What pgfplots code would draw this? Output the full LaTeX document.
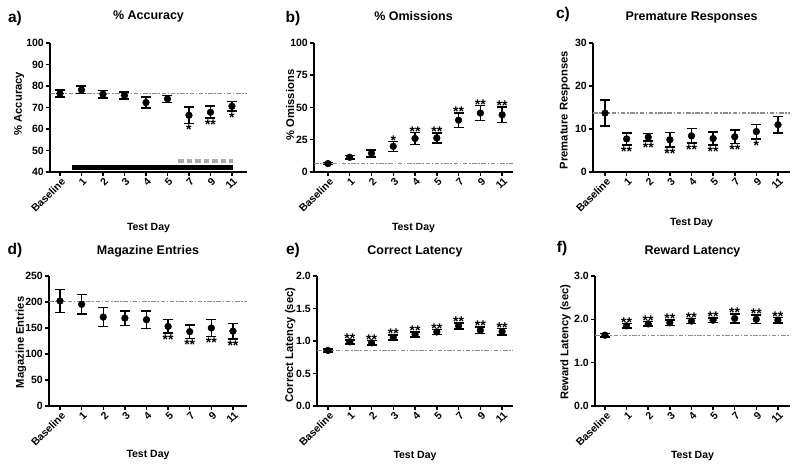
\documentclass[border=0pt]{standalone}
\usepackage{pgfplots}
\pgfplotsset{compat=1.18}
\usepackage{fontspec}
\setmainfont{Liberation Sans}
\definecolor{refgray}{RGB}{140,140,140}
\definecolor{bargray}{RGB}{170,170,170}
\newcommand{\tickfont}{\bfseries\fontsize{10.5}{12}\selectfont}
\newcommand{\labfont}{\bfseries\fontsize{10.5}{12}\selectfont}
\newcommand{\ylabfont}{\bfseries\fontsize{11.2}{12}\selectfont}
\newcommand{\titfont}{\bfseries\fontsize{12.5}{14}\selectfont}
\newcommand{\letfont}{\bfseries\fontsize{15.5}{17}\selectfont}
\newcommand{\starfont}{\bfseries\fontsize{14}{15}\selectfont}
\pgfplotsset{
  prism/.style={
    scale only axis,
    axis lines*=left,
    axis line style={line width=1.5pt, black},
    xtick={0,...,8},
    xticklabels={Baseline,1,2,3,4,5,7,9,11},
    xticklabel style={rotate=45, anchor=north east, font=\tickfont, inner sep=0pt, yshift=-1pt},
    yticklabel style={font=\tickfont, inner sep=2pt},
    /pgf/number format/assume math mode=true,
    scaled y ticks=false,
    tick align=outside,
    major tick length=4pt,
    minor tick num=0,
    tick style={line width=1.5pt, black},
    xlabel={Test Day},
    xlabel style={font=\labfont, anchor=center},
    ylabel style={font=\ylabfont, anchor=center},
    title style={font=\titfont, anchor=center, yshift=0pt},
    clip=false,
  },
  dat/.style={black, mark=*, mark size=3.4pt, only marks,
    error bars/.cd, y dir=both, y explicit,
    error mark options={rotate=90, line width=1.5pt, mark size=5pt, black},
    error bar style={line width=1.5pt, black}},
  refl/.style={refgray, line width=1.4pt, dash pattern=on 4.5pt off 1.6pt on 1.6pt off 1.6pt, forget plot},
  starsbelow/.style={draw=none, mark=none, nodes near coords, point meta=explicit symbolic,
    every node near coord/.append style={anchor=north, font=\starfont, inner sep=0pt, yshift=-1.5pt}},
  starsabove/.style={draw=none, mark=none, nodes near coords, point meta=explicit symbolic,
    every node near coord/.append style={anchor=south, font=\starfont, inner sep=0pt, yshift=-4pt}},
}
\begin{document}
\begin{tikzpicture}
\useasboundingbox (0,0) rectangle (800pt,470pt);
% ---------------- a) % Accuracy
\begin{axis}[prism, at={(50pt,298pt)}, anchor=south west,
  width=197pt, height=129pt, xmin=-0.465, xmax=8.7,
  ymin=40, ymax=100, ytick={40,50,...,100},
  title={\% Accuracy}, title style={at={(axis description cs:0.5,1.163)}},
  ylabel={\% Accuracy}, ylabel style={at={(axis description cs:-0.157,0.53)}},
  xlabel style={at={(axis description cs:0.5,-0.434)}}]
\addplot[refl] coordinates {(-0.465,76.4) (8.7,76.4)};
\addplot[black, line width=4.5pt, forget plot] coordinates {(0.56,42.1) (8.05,42.1)};
\addplot[bargray, line width=3.5pt, dash pattern=on 5.5pt off 3pt, forget plot] coordinates {(5.5,45) (8.05,45)};
\addplot[dat] table[x=x, y=y, y error=e] {
x y e
0 76.5 1.7
1 78.2 1.8
2 76.2 1.8
3 75.6 1.6
4 72.3 2.5
5 74.0 1.6
6 66.4 3.9
7 67.8 2.8
8 70.6 2.3
};
\addplot[starsbelow] table[x=x, y=y, meta=s] {
x y s
6 62.5 *
7 65.0 **
8 68.3 *
};
\end{axis}
% ---------------- b) % Omissions
\begin{axis}[prism, at={(314pt,298pt)}, anchor=south west,
  width=199pt, height=129pt, xmin=-0.64, xmax=8.5,
  ymin=0, ymax=100, ytick={0,25,50,75,100},
  title={\% Omissions}, title style={at={(axis description cs:0.5,1.163)}},
  ylabel={\% Omissions}, ylabel style={at={(axis description cs:-0.12,0.52)}},
  xlabel style={at={(axis description cs:0.5,-0.434)}}]
\addplot[refl] coordinates {(-0.64,6.7) (8.5,6.7)};
\addplot[dat] table[x=x, y=y, y error=e] {
x y e
0 6.5 0.8
1 11.4 1.2
2 14.5 2.7
3 19.9 3.9
4 26.0 4.5
5 26.4 3.9
6 40.2 5.6
7 45.7 5.9
8 44.3 6.0
};
\addplot[starsabove] table[x=x, y=y, meta=s] {
x y s
3 23.8 *
4 30.5 **
5 30.3 **
6 45.8 **
7 51.6 **
8 50.3 **
};
\end{axis}
% ---------------- c) Premature Responses
\begin{axis}[prism, at={(593pt,298pt)}, anchor=south west,
  width=197pt, height=129pt, xmin=-0.555, xmax=8.555,
  ymin=0, ymax=30, ytick={0,10,20,30},
  title={Premature Responses}, title style={at={(axis description cs:0.5,1.155)}},
  ylabel={Premature Responses}, ylabel style={at={(axis description cs:-0.142,0.48)}},
  xlabel style={at={(axis description cs:0.5,-0.395)}}]
\addplot[refl] coordinates {(-0.555,13.7) (8.555,13.7)};
\addplot[dat] table[x=x, y=y, y error=e] {
x y e
0 13.7 3.0
1 7.7 1.4
2 8.1 0.9
3 7.5 1.7
4 8.4 1.7
5 7.8 1.5
6 8.2 1.6
7 9.4 1.7
8 11.0 1.9
};
\addplot[starsbelow] table[x=x, y=y, meta=s] {
x y s
1 6.3 **
2 7.2 **
3 5.8 **
4 6.7 **
5 6.3 **
6 6.6 **
7 7.7 *
};
\end{axis}
% ---------------- d) Magazine Entries
\begin{axis}[prism, at={(49pt,64pt)}, anchor=south west,
  width=198pt, height=130pt, xmin=-0.51, xmax=8.65,
  ymin=0, ymax=250, ytick={0,50,...,250},
  title={Magazine Entries}, title style={at={(axis description cs:0.5,1.146)}},
  ylabel={Magazine Entries}, ylabel style={at={(axis description cs:-0.142,0.49)}},
  xlabel style={at={(axis description cs:0.5,-0.377)}}]
\addplot[refl] coordinates {(-0.51,200.6) (8.65,200.6)};
\addplot[dat] table[x=x, y=y, y error=e] {
x y e
0 202 22
1 195.6 19
2 171 18
3 169 14
4 166 17
5 153 13
6 143 13
7 150 16
8 144 15
};
\addplot[starsbelow] table[x=x, y=y, meta=s] {
x y s
5 140 **
6 130 **
7 134 **
8 129 **
};
\end{axis}
% ---------------- e) Correct Latency
\begin{axis}[prism, at={(317pt,64pt)}, anchor=south west,
  width=196pt, height=130pt, xmin=-0.506, xmax=8.5,
  ymin=0, ymax=2, ytick={0,0.5,...,2.0},
  yticklabel style={/pgf/number format/.cd, fixed, fixed zerofill, precision=1},
  title={Correct Latency}, title style={at={(axis description cs:0.5,1.146)}},
  ylabel={Correct Latency (sec)}, ylabel style={at={(axis description cs:-0.137,0.47)}},
  xlabel style={at={(axis description cs:0.5,-0.385)}}]
\addplot[refl] coordinates {(-0.506,0.85) (8.5,0.85)};
\addplot[dat] table[x=x, y=y, y error=e] {
x y e
0 0.854 0.02
1 0.987 0.03
2 0.972 0.035
3 1.054 0.04
4 1.10 0.04
5 1.14 0.04
6 1.233 0.045
7 1.167 0.05
8 1.146 0.05
};
\addplot[starsabove] table[x=x, y=y, meta=s] {
x y s
1 1.017 **
2 1.007 **
3 1.094 **
4 1.14 **
5 1.18 **
6 1.278 **
7 1.217 **
8 1.196 **
};
\end{axis}
% ---------------- f) Reward Latency
\begin{axis}[prism, at={(595pt,64pt)}, anchor=south west,
  width=195pt, height=130pt, xmin=-0.46, xmax=8.56,
  ymin=0, ymax=3, ytick={0,1,2,3},
  yticklabel style={/pgf/number format/.cd, fixed, fixed zerofill, precision=1},
  title={Reward Latency}, title style={at={(axis description cs:0.5,1.146)}},
  ylabel={Reward Latency (sec)}, ylabel style={at={(axis description cs:-0.152,0.49)}},
  xlabel style={at={(axis description cs:0.5,-0.385)}}]
\addplot[refl] coordinates {(-0.46,1.62) (8.56,1.62)};
\addplot[dat] table[x=x, y=y, y error=e] {
x y e
0 1.634 0.04
1 1.85 0.05
2 1.895 0.05
3 1.92 0.06
4 1.96 0.06
5 1.98 0.05
6 2.02 0.1
7 2.0 0.1
8 1.98 0.06
};
\addplot[starsabove] table[x=x, y=y, meta=s] {
x y s
1 1.9 **
2 1.945 **
3 1.98 **
4 2.02 **
5 2.03 **
6 2.12 **
7 2.1 **
8 2.04 **
};
\end{axis}
% panel letters
\node[font=\letfont] at (15pt,451pt) {a)};
\node[font=\letfont] at (293pt,451pt) {b)};
\node[font=\letfont] at (563pt,455pt) {c)};
\node[font=\letfont] at (15pt,220pt) {d)};
\node[font=\letfont] at (293pt,220pt) {e)};
\node[font=\letfont] at (562pt,222pt) {f)};
\end{tikzpicture}
\end{document}
